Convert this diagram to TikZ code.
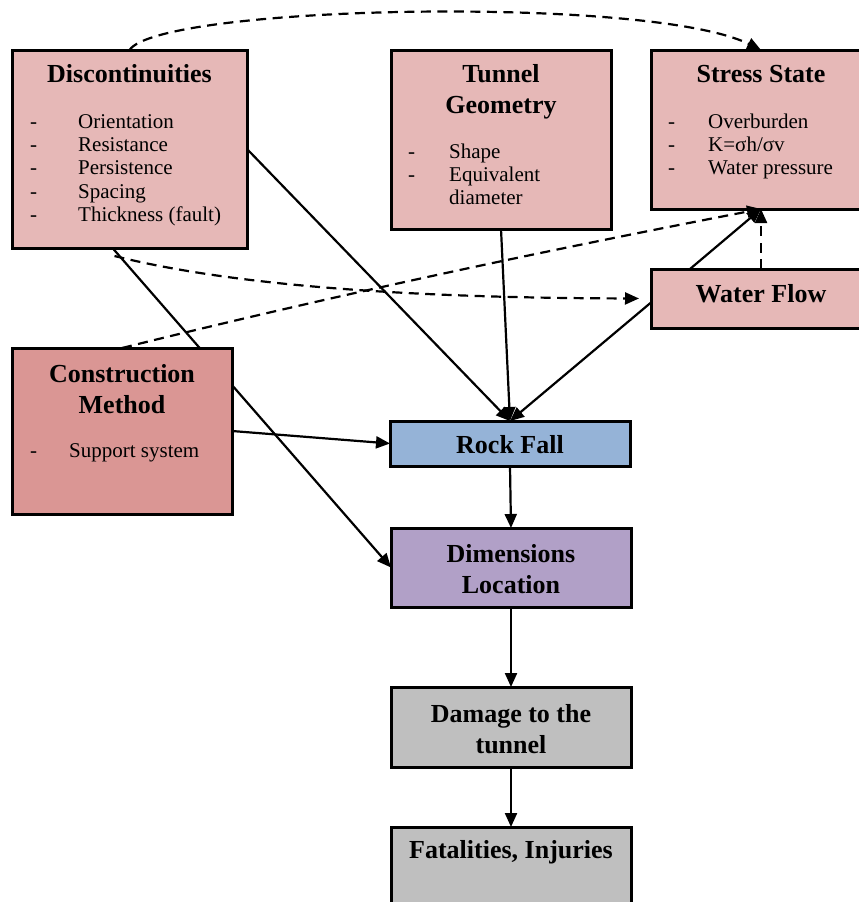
\documentclass[tikz,border=0pt]{standalone}
\usepackage{fontspec}
\setmainfont{Liberation Serif}
\usetikzlibrary{arrows.meta,calc}
\definecolor{pinkA}{HTML}{E6B8B7}
\definecolor{pinkB}{HTML}{DA9694}
\definecolor{blueA}{HTML}{95B3D7}
\definecolor{lilac}{HTML}{B1A0C7}
\definecolor{grayA}{HTML}{BFBFBF}
\newcommand{\ttlines}[1]{\begin{tabular}[t]{@{}c@{}}#1\end{tabular}}
\newcommand{\blist}[2]{\begin{tabular}[t]{@{}p{#1}@{}l@{}}#2\end{tabular}}
\begin{document}
\begin{tikzpicture}[x=1pt,y=-1pt,
  box/.style={draw=black, line width=3pt, inner sep=0pt, outer sep=0pt},
  ttl/.style={font=\fontsize{26}{31}\selectfont\bfseries, inner sep=0pt, anchor=base},
  lst/.style={font=\fontsize{21}{23.4}\selectfont, inner sep=0pt, anchor=base west},
  arr/.style={line width=2.2pt, -{Triangle[length=14pt,width=12pt]}},
  dsh/.style={arr, dash pattern=on 10pt off 6.5pt}]
\useasboundingbox (0,0) rectangle (859,902);
\clip (0,0) rectangle (859,902);

% boxes (construction method drawn later, above the line that passes behind it)
\node[box, fill=pinkA, minimum width=235pt, minimum height=198pt] (disc) at (129.5,149) {};
\node[box, fill=pinkA, minimum width=220pt, minimum height=179pt] (tunnel) at (501,139.5) {};
\node[box, fill=pinkA, minimum width=220pt, minimum height=159pt] (stress) at (761,129.5) {};
\node[box, fill=pinkA, minimum width=220pt, minimum height=59pt] (water) at (761,298.5) {};
\node[box, fill=blueA, minimum width=240pt, minimum height=45pt] (rock) at (510,443.5) {};
\node[box, fill=lilac, minimum width=240pt, minimum height=79pt] (dims) at (511,567.5) {};
\node[box, fill=grayA, minimum width=240pt, minimum height=80pt] (damage) at (511,727) {};
\node[box, fill=grayA, minimum width=240pt, minimum height=80pt] (fatal) at (511,867) {};

\draw[arr] ([xshift=-17pt]disc.south) -- (dims.west);

\node[box, fill=pinkB, minimum width=220pt, minimum height=166pt] (constr) at (122,431) {};

% texts
\node[ttl] (discT) at (129.5,82) {Discontinuities};
\node[lst] (discL) at (30,128) {\blist{48pt}{-&Orientation\\-&Resistance\\-&Persistence\\-&Spacing\\-&Thickness (fault)}};
\node[ttl] (tunnelT) at (501,82) {\ttlines{Tunnel\\Geometry}};
\node[lst] (tunnelL) at (408,158) {\blist{41pt}{-&Shape\\-&Equivalent\\&diameter}};
\node[ttl] (stressT) at (761,82) {Stress State};
\node[lst] (stressL) at (668,128) {\blist{40pt}{-&Overburden\\-&K=σh/σv\\-&Water pressure}};
\node[ttl] (waterT) at (761,302) {Water Flow};
\node[ttl] (constrT) at (122,382) {\ttlines{Construction\\Method}};
\node[lst] (constrL) at (30,457) {\blist{39pt}{-&Support system}};
\node[ttl] (rockT) at (510,453) {Rock Fall};
\node[ttl] (dimsT) at (511,562) {\ttlines{Dimensions\\Location}};
\node[ttl] (damageT) at (511,722) {\ttlines{Damage to the\\tunnel}};
\node[ttl] (fatalT) at (511,858) {Fatalities, Injuries};

% connectors
\draw[dsh] (disc.north) .. controls (160,5) and (650,-5) .. (stress.north);
\draw[dsh, shorten >=12pt] ([xshift=-15pt,yshift=-8pt]disc.south) .. controls (250,290) and (450,298) .. (water.west);
\draw[dsh] (constr.north) .. controls (335,295) and (548,250) .. (stress.south);
\draw[arr] (disc.east) -- (rock.north);
\draw[arr] (tunnel.south) -- (rock.north);
\draw[arr] ([yshift=-4pt]water.west) -- (rock.north);
\draw[arr] ([xshift=-71pt]water.north) -- (stress.south);
\draw[dsh] (water.north) -- (stress.south);
\draw[arr] (constr.east) -- (rock.west);
\draw[arr] (rock.south) -- (dims.north);
\draw[arr] (dims.south) -- (damage.north);
\draw[arr] (damage.south) -- (fatal.north);
\end{tikzpicture}
\end{document}
